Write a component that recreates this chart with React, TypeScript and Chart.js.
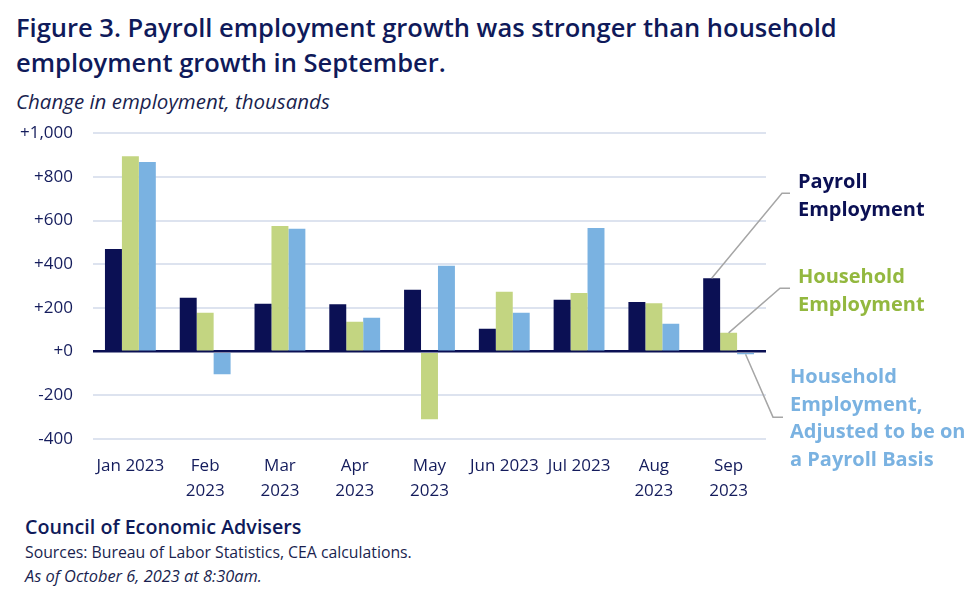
import React, { useEffect, useRef } from "react";
import { Chart, registerables } from "chart.js";

Chart.register(...registerables);

const categories: string[][] = [
  ["Jan 2023"],
  ["Feb", "2023"],
  ["Mar", "2023"],
  ["Apr", "2023"],
  ["May", "2023"],
  ["Jun 2023"],
  ["Jul 2023"],
  ["Aug", "2023"],
  ["Sep", "2023"],
];
const payroll = [470, 247, 219, 217, 283, 105, 237, 227, 336];
const household = [895, 178, 575, 137, -310, 274, 268, 222, 86];
const adjusted = [868, -104, 562, 155, 393, 178, 566, 128, -12];

const NAVY = "#0b1054";
const GREEN_BAR = "#c3d581";
const GREEN_TEXT = "#93b83f";
const BLUE = "#7ab2e1";
const GRID = "#dde3ef";
const TEXT = "#141c5c";
const FONT = "'Open Sans', 'Noto Sans', sans-serif";

const annotations = [
  { ds: 0, anchor: 725, elbow: 16, end: 24, textX: 32, color: NAVY, lines: ["Payroll", "Employment"] },
  { ds: 1, anchor: 290, elbow: 14, end: 24, textX: 32, color: GREEN_TEXT, lines: ["Household", "Employment"] },
  {
    ds: 2,
    anchor: -300,
    elbow: 7,
    end: 17,
    textX: 24,
    color: BLUE,
    lines: ["Household", "Employment,", "Adjusted to be on", "a Payroll Basis"],
  },
];

const annotationPlugin = {
  id: "sideLabels",
  afterDatasetsDraw(chart: any) {
    const { ctx, chartArea, scales } = chart;
    const y = scales.y;
    ctx.save();
    annotations.forEach((a) => {
      const meta = chart.getDatasetMeta(a.ds);
      const bar = meta.data[meta.data.length - 1] as any;
      const ay = y.getPixelForValue(a.anchor);
      ctx.strokeStyle = "#a6a6a6";
      ctx.lineWidth = 1.5;
      ctx.beginPath();
      ctx.moveTo(bar.x, bar.y);
      ctx.lineTo(chartArea.right + a.elbow, ay);
      ctx.lineTo(chartArea.right + a.end, ay);
      ctx.stroke();
      ctx.fillStyle = a.color;
      ctx.font = `bold 20px ${FONT}`;
      ctx.textBaseline = "alphabetic";
      ctx.textAlign = "left";
      const n = a.lines.length;
      const lh = n > 2 ? 27.5 : 28;
      const startOffset = n > 2 ? -34 : -5;
      a.lines.forEach((t, i) => {
        ctx.fillText(t, chartArea.right + a.textX, ay + startOffset + i * lh);
      });
    });
    ctx.restore();
  },
};

function ChartCanvas() {
  const ref = useRef<HTMLCanvasElement>(null);
  useEffect(() => {
    if (!ref.current) return;
    const chart = new Chart(ref.current, {
      type: "bar",
      data: {
        labels: categories,
        datasets: [
          { label: "Payroll Employment", data: payroll, backgroundColor: NAVY },
          { label: "Household Employment", data: household, backgroundColor: GREEN_BAR },
          { label: "Household Employment, Adjusted to be on a Payroll Basis", data: adjusted, backgroundColor: BLUE },
        ],
      },
      options: {
        animation: false,
        responsive: false,
        maintainAspectRatio: false,
        layout: { padding: { left: 0, right: 205, top: 0, bottom: 0 } },
        datasets: { bar: { categoryPercentage: 0.68, barPercentage: 1 } },
        plugins: { legend: { display: false }, tooltip: { enabled: false } },
        scales: {
          x: {
            grid: { display: false, drawTicks: false },
            border: { display: false },
            ticks: {
              color: TEXT,
              font: { family: FONT, size: 17, lineHeight: 1.45 },
              padding: 15,
              maxRotation: 0,
              autoSkip: false,
            },
            afterFit: (s: any) => {
              s.height = 71;
            },
          },
          y: {
            min: -400,
            max: 1000,
            grid: {
              drawTicks: false,
              color: (c: any) => (c.tick && c.tick.value === 0 ? NAVY : GRID),
              lineWidth: (c: any) => (c.tick && c.tick.value === 0 ? 2.5 : 2),
            },
            border: { display: false },
            ticks: {
              stepSize: 200,
              color: TEXT,
              padding: 20,
              font: { family: FONT, size: 17 },
              callback: (v: any) => {
                const n = Number(v);
                const s = Math.abs(n).toLocaleString("en-US");
                return n < 0 ? "-" + s : "+" + s;
              },
            },
            afterFit: (s: any) => {
              s.width = 93;
            },
          },
        },
      },
      plugins: [annotationPlugin],
    });
    return () => chart.destroy();
  }, []);
  return (
    <canvas
      ref={ref}
      width={971}
      height={407}
      style={{ position: "absolute", left: 0, top: 103, width: 971, height: 407 }}
    />
  );
}

export default function App() {
  return (
    <div
      style={{
        position: "absolute",
        left: 0,
        top: 0,
        width: 971,
        height: 589,
        background: "#fff",
        fontFamily: FONT,
        color: TEXT,
        overflow: "hidden",
      }}
    >
      <div
        style={{
          position: "absolute",
          left: 16,
          top: 10,
          fontSize: 25.5,
          fontWeight: 600,
          lineHeight: "35px",
          color: "#0f1a5a",
          whiteSpace: "nowrap",
        }}
      >
        Figure 3. Payroll employment growth was stronger than household
        <br />
        employment growth in September.
      </div>
      <div
        style={{
          position: "absolute",
          left: 16,
          top: 87,
          fontSize: 20.5,
          fontStyle: "italic",
          lineHeight: "28px",
          color: "#1a1f4f",
          whiteSpace: "nowrap",
        }}
      >
        Change in employment, thousands
      </div>
      <ChartCanvas />
      <div style={{ position: "absolute", left: 25, top: 514, whiteSpace: "nowrap" }}>
        <div style={{ fontSize: 19.7, fontWeight: 600, lineHeight: "26px", color: "#0f1a5a" }}>
          Council of Economic Advisers
        </div>
        <div style={{ fontSize: 15.8, lineHeight: "24px", color: "#1a1f4f" }}>
          Sources: Bureau of Labor Statistics, CEA calculations.
        </div>
        <div style={{ fontSize: 16.4, lineHeight: "24px", fontStyle: "italic", color: "#1a1f4f" }}>
          As of October 6, 2023 at 8:30am.
        </div>
      </div>
    </div>
  );
}
